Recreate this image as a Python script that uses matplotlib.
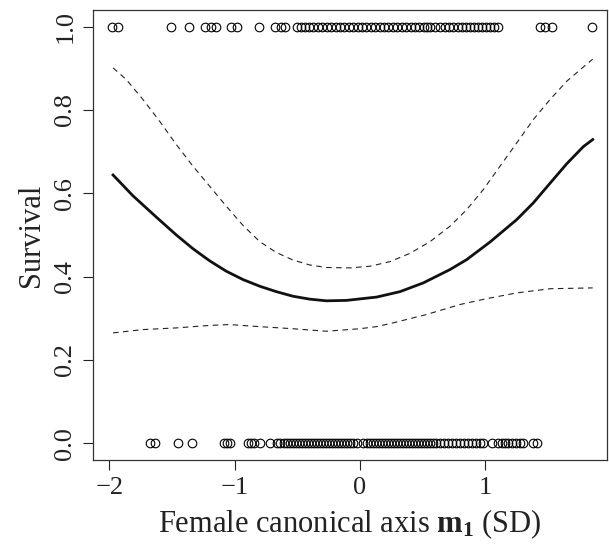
import matplotlib
matplotlib.use("Agg")
import matplotlib.pyplot as plt

plt.rcParams['font.family'] = ['Liberation Serif', 'DejaVu Serif']
plt.rcParams['mathtext.fontset'] = 'custom'
plt.rcParams['mathtext.rm'] = 'Liberation Serif'
plt.rcParams['mathtext.bf'] = 'Liberation Serif:bold'
plt.rcParams['mathtext.it'] = 'Liberation Serif:italic'

# Observed survivors (y = 1)
x_survived = [-1.98, -1.93, -1.508, -1.365, -1.237, -1.189, -1.149, -1.030, -0.982,
              -0.806, -0.678, -0.630, -0.599, -0.503, -0.471, -0.439, -0.407, -0.375,
              -0.335, -0.303, -0.263, -0.231, -0.192, -0.160, -0.128, -0.088, -0.056,
              -0.016, 0.016, 0.048, 0.088, 0.120, 0.160, 0.192, 0.223, 0.263, 0.295,
              0.335, 0.367, 0.407, 0.439, 0.471, 0.511, 0.535, 0.559, 0.599, 0.638,
              0.678, 0.710, 0.742, 0.782, 0.814, 0.846, 0.878, 0.910, 0.942, 0.974,
              1.006, 1.037, 1.069, 1.101, 1.437, 1.476, 1.532, 1.852]
# Observed non-survivors (y = 0)
x_died = [-1.676, -1.636, -1.453, -1.341, -1.085, -1.061, -1.038, -0.894, -0.870,
          -0.846, -0.798, -0.718, -0.662, -0.638, -0.607, -0.583, -0.559, -0.535,
          -0.511, -0.487, -0.463, -0.439, -0.415, -0.391, -0.367, -0.343, -0.319,
          -0.295, -0.271, -0.247, -0.223, -0.200, -0.176, -0.152, -0.128, -0.104,
          -0.080, -0.056, -0.024, 0.024, 0.056, 0.080, 0.104, 0.128, 0.152, 0.176,
          0.200, 0.223, 0.247, 0.271, 0.295, 0.319, 0.343, 0.367, 0.391, 0.415,
          0.439, 0.463, 0.487, 0.511, 0.535, 0.559, 0.583, 0.607, 0.638, 0.670,
          0.702, 0.734, 0.766, 0.798, 0.830, 0.862, 0.894, 0.926, 0.958, 0.982,
          1.053, 1.101, 1.133, 1.157, 1.181, 1.213, 1.245, 1.277, 1.301, 1.381, 1.413]

# Fitted survival curve
fit_x = [-1.971, -1.812, -1.626, -1.466, -1.333, -1.200, -1.067, -0.934, -0.800,
         -0.668, -0.535, -0.401, -0.269, -0.109, 0.133, 0.319, 0.505, 0.718, 0.852,
         1.037, 1.251, 1.383, 1.516, 1.650, 1.782, 1.857]
fit_y = [0.644, 0.594, 0.543, 0.500, 0.467, 0.438, 0.413, 0.393, 0.377,
         0.364, 0.353, 0.346, 0.342, 0.343, 0.351, 0.364, 0.385, 0.417, 0.441,
         0.483, 0.537, 0.577, 0.624, 0.671, 0.712, 0.729]

# Upper confidence band
up_x = [-1.971, -1.865, -1.732, -1.599, -1.466, -1.333, -1.200, -1.067, -0.934,
        -0.800, -0.668, -0.535, -0.401, -0.269, -0.080, 0.080, 0.239, 0.399, 0.559,
        0.718, 0.852, 0.984, 1.117, 1.251, 1.383, 1.516, 1.650, 1.782, 1.857]
up_y = [0.901, 0.873, 0.825, 0.773, 0.717, 0.665, 0.617, 0.569, 0.523,
        0.484, 0.458, 0.440, 0.428, 0.422, 0.421, 0.425, 0.436, 0.456, 0.484,
        0.521, 0.561, 0.609, 0.665, 0.721, 0.777, 0.825, 0.869, 0.903, 0.922]

# Lower confidence band
lo_x = [-1.971, -1.731, -1.466, -1.200, -1.040, -0.800, -0.535, -0.269, -0.002,
        0.130, 0.263, 0.529, 0.796, 1.008, 1.251, 1.516, 1.857]
lo_y = [0.265, 0.273, 0.277, 0.283, 0.285, 0.280, 0.275, 0.269, 0.275,
        0.280, 0.289, 0.309, 0.333, 0.347, 0.361, 0.371, 0.373]

fig = plt.figure(figsize=(6.09, 5.48), dpi=100)
ax = fig.add_axes([0.1527, 0.1606, 0.8440, 0.8212])

ax.plot(x_survived, [1.0] * len(x_survived), 'o', mfc='none', mec='black',
        mew=0.8, ms=6.2, clip_on=False)
ax.plot(x_died, [0.0] * len(x_died), 'o', mfc='none', mec='black',
        mew=0.8, ms=6.2, clip_on=False)
ax.plot(fit_x, fit_y, color='#111111', lw=2.0)
ax.plot(up_x, up_y, color='#222222', lw=0.8, linestyle=(0, (5, 4)))
ax.plot(lo_x, lo_y, color='#222222', lw=0.8, linestyle=(0, (5, 4)))

ax.set_xlim(-2.131, 1.971)
ax.set_ylim(-0.04, 1.04)
ax.set_xticks([-2, -1, 0, 1])
ax.set_xticklabels(['\u22122', '\u22121', '0', '1'])
ax.set_yticks([0.0, 0.2, 0.4, 0.6, 0.8, 1.0])
ax.set_yticklabels(['0.0', '0.2', '0.4', '0.6', '0.8', '1.0'], rotation=90,
                   va='center')
ax.tick_params(direction='out', length=7, width=0.8, labelsize=19, pad=5,
               colors='#222222')
for s in ax.spines.values():
    s.set_linewidth(0.9)
    s.set_color('#333333')

ax.set_xlabel('Female canonical axis $\\mathbf{m_1}$ (SD)', fontsize=22,
              labelpad=6, color='#222222')
ax.set_ylabel('Survival', fontsize=22, labelpad=6, color='#222222')

fig.savefig('out.png', dpi=100)
